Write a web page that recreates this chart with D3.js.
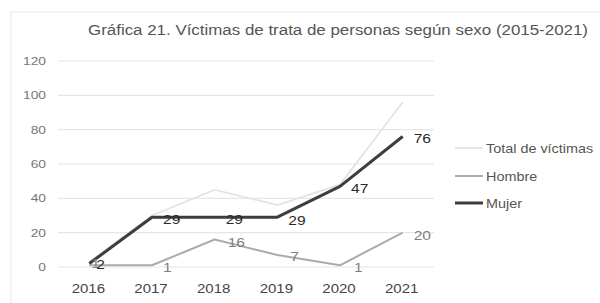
<!DOCTYPE html>
<html>
<head>
<meta charset="utf-8">
<script src="https://cdn.jsdelivr.net/npm/d3@7.9.0/dist/d3.min.js"></script>
<style>
  body { margin: 0; background: #fff; }
  svg { display: block; font-family: "Liberation Sans", Arial, sans-serif; }
</style>
</head>
<body>
<svg id="chart" width="600" height="303"></svg>
<script>
const years = ['2016', '2017', '2018', '2019', '2020', '2021'];
const total = [3, 30, 45, 36, 48, 96];
const hombre = [1, 1, 16, 7, 1, 20];
const mujer = [2, 29, 29, 29, 47, 76];
const yTicks = [0, 20, 40, 60, 80, 100, 120];

const svg = d3.select('#chart');
const margin = { left: 58, right: 166, top: 61, bottom: 35 };
const width = 600;
const height = 303;
const sx = 1.2; // the scan is a bit wider than tall

// place a text at (x, y) with the horizontal stretch
const at = (x, y) => `translate(${x},${y}) scale(${sx},1)`;

// faint scan frame
svg.append('rect')
  .attr('x', 11).attr('y', 12).attr('width', 600).attr('height', 300)
  .attr('fill', 'none').attr('stroke', '#e8e8e8');

svg.append('text')
  .attr('x', 88).attr('y', 35)
  .attr('font-size', 14)
  .attr('fill', '#555')
  .attr('textLength', 500)
  .attr('lengthAdjust', 'spacingAndGlyphs')
  .text('Gráfica 21. Víctimas de trata de personas según sexo (2015-2021)');

const x = d3.scaleBand()
  .domain(years)
  .range([margin.left, width - margin.right]);

const y = d3.scaleLinear()
  .domain([0, 120])
  .range([height - margin.bottom - 1, margin.top]);

const cx = (d) => x(d) + x.bandwidth() / 2;

// grid
svg.append('g')
  .selectAll('line')
  .data(yTicks)
  .join('line')
  .attr('x1', margin.left).attr('x2', width - margin.right)
  .attr('y1', (d) => y(d)).attr('y2', (d) => y(d))
  .attr('stroke', '#e6e6e6')
  .attr('stroke-width', 1.2);

// y axis labels
svg.append('g')
  .selectAll('text')
  .data(yTicks)
  .join('text')
  .attr('transform', (d) => at(46, y(d) + 4))
  .attr('text-anchor', 'end')
  .attr('font-size', 11.5)
  .attr('fill', '#777')
  .text((d) => d);

// x axis labels
svg.append('g')
  .selectAll('text')
  .data(years)
  .join('text')
  .attr('transform', (d) => at(cx(d) - 1, 293))
  .attr('text-anchor', 'middle')
  .attr('font-size', 12.5)
  .attr('fill', '#444')
  .text((d) => d);

const series = [
  { name: 'Total de víctimas', values: total, color: '#e3e3e3', width: 1.8 },
  { name: 'Hombre', values: hombre, color: '#ababab', width: 2 },
  { name: 'Mujer', values: mujer, color: '#3d3d3d', width: 3 }
];

const line = d3.line()
  .x((d, i) => cx(years[i]))
  .y((d) => y(d));

series.forEach((s) => {
  svg.append('path')
    .datum(s.values)
    .attr('d', line)
    .attr('fill', 'none')
    .attr('stroke', s.color)
    .attr('stroke-width', s.width)
    .attr('stroke-linejoin', 'round');
});

// data labels (Hombre and Mujer)
const labelStyle = [
  { values: hombre, color: '#808080', dx: [2, 11, 13, 13, 14, 11], dy: [3, 7, 7, 6, 7, 7] },
  { values: mujer, color: '#2a2a2a', dx: [7, 11, 11, 11, 11, 11], dy: [5, 7, 7, 8, 7, 6] }
];

labelStyle.forEach((s) => {
  svg.append('g')
    .selectAll('text')
    .data(s.values)
    .join('text')
    .attr('transform', (d, i) => at(cx(years[i]) + s.dx[i], y(d) + s.dy[i]))
    .attr('font-size', 13)
    .attr('fill', s.color)
    .text((d) => d);
});

// legend
const legend = svg.append('g');
const legendY = [148, 176, 203];
series.forEach((s, i) => {
  legend.append('line')
    .attr('x1', 455).attr('x2', 483)
    .attr('y1', legendY[i]).attr('y2', legendY[i])
    .attr('stroke', s.color)
    .attr('stroke-width', s.width);
  legend.append('text')
    .attr('transform', at(486, legendY[i] + 4.5))
    .attr('font-size', 12)
    .attr('fill', '#555')
    .text(s.name);
});
</script>
</body>
</html>
